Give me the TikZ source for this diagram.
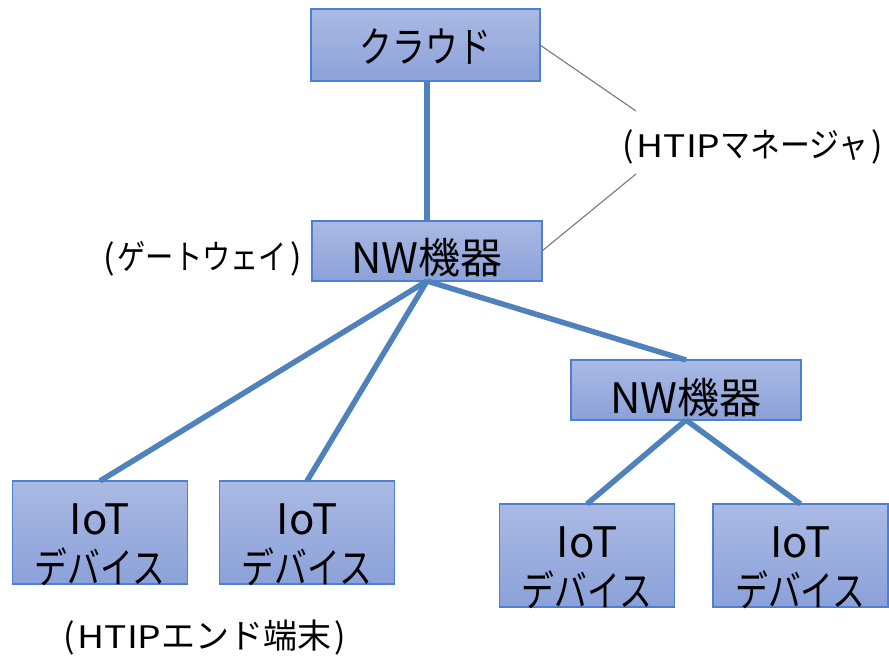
\documentclass[tikz,border=0pt]{standalone}
\usepackage{fontspec}
\setmainfont{Noto Sans CJK JP}
% condensed / widened faces for the mixed-script labels
\newfontfamily\kanabox[FakeStretch=0.78]{Noto Sans CJK JP}
\newfontfamily\kanamgr[FakeStretch=0.88]{Noto Sans CJK JP}
\newfontfamily\kanagw[FakeStretch=0.83]{Noto Sans CJK JP}
\newfontfamily\latwide[FakeStretch=1.2]{Noto Sans CJK JP}
\newcommand{\htip}{{\latwide\fontsize{31}{36}\selectfont HTIP}}
\newcommand{\opar}{(\hspace{3pt}}
\newcommand{\cpar}{\hspace{3pt})}
\definecolor{boxtop}{RGB}{171,186,228}
\definecolor{boxbot}{RGB}{139,161,217}
\definecolor{boxline}{RGB}{79,127,208}
\definecolor{linkc}{RGB}{79,129,189}
\definecolor{tagc}{RGB}{128,128,128}
\tikzset{
  devbox/.style={draw=boxline, line width=1.2pt, top color=boxtop, bottom color=boxbot,
                 inner sep=0pt, outer sep=0pt},
  bigtxt/.style={font=\fontsize{42}{48}\selectfont, inner sep=0pt, anchor=base},
  notetxt/.style={font=\fontsize{34}{40}\selectfont, inner sep=0pt, anchor=base west},
  netlink/.style={draw=linkc, line width=5.5pt},
  taglink/.style={draw=tagc, line width=1.2pt},
}
\begin{document}
\begin{tikzpicture}[x=1pt, y=-1pt]
  \useasboundingbox (0,0) rectangle (889,656);

  % network devices
  \node[devbox, minimum width=229pt, minimum height=72pt] (cloud) at (425.5,45) {};
  \node[bigtxt] (cloudtxt) at ([yshift=-53pt]cloud.north) {{\kanabox クラウド}};

  \node[devbox, minimum width=230pt, minimum height=60pt] (nwa) at (427,251) {};
  \node[bigtxt] (nwatxt) at ([yshift=-52pt]nwa.north) {NW機器};

  \node[devbox, minimum width=230pt, minimum height=60pt] (nwb) at (686,390) {};
  \node[bigtxt] (nwbtxt) at ([yshift=-53pt]nwb.north) {NW機器};

  % end devices
  \foreach \n/\x/\y in {ia/100/532.5, ib/307/532.5, ic/587/555.5, id/800.5/555.5}{
    \node[devbox, minimum width=175pt, minimum height=103pt] (\n) at (\x,\y) {};
    \node[bigtxt] (\n top) at ([yshift=-53pt]\n.north) {IoT};
    \node[bigtxt] (\n bot) at ([yshift=-102pt]\n.north) {{\kanabox デバイス}};
  }

  % connections
  \draw[netlink] (cloud.south -| nwa.north) -- (nwa.north);
  \draw[netlink] (nwa.south) -- (ia.north);
  \draw[netlink] (nwa.south) -- (ib.north);
  \draw[netlink] (nwa.south) -- (nwb.north);
  \draw[netlink] (nwb.south) -- (ic.north);
  \draw[netlink] (nwb.south) -- (id.north);

  % role annotations
  \node[notetxt] (mgr) at (622,157) {\opar\htip{\kanamgr マネージャ}\cpar};
  \node[notetxt] (gw) at (103,269) {\opar{\kanagw ゲートウェイ}\cpar};
  \node[notetxt] (endt) at (63,648) {\opar\htip エンド端末\cpar};

  \coordinate (mgrA) at (636,111);
  \coordinate (mgrB) at (636,174);
  \draw[taglink] (cloud.east) -- (mgrA);
  \draw[taglink] (mgrB) -- (nwa.east);
\end{tikzpicture}
\end{document}
